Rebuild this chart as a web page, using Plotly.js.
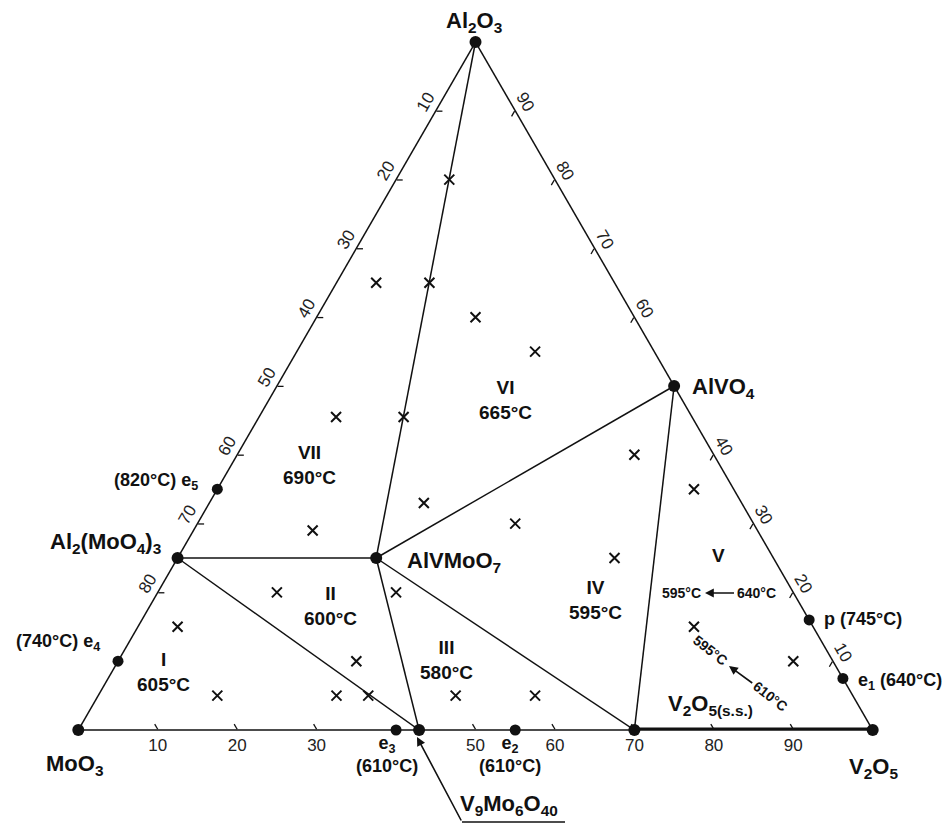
<!DOCTYPE html>
<html><head><meta charset="utf-8">
<script src="https://cdn.plot.ly/plotly-3.0.1.min.js"></script>
<style>html,body{margin:0;padding:0;background:#fff}</style>
</head><body><div id="chart" style="width:944px;height:823px"></div>
<script>
// Compositions in mol %: Al2O3 (top vertex), MoO3 (bottom-left), V2O5 (bottom-right)
const compoundNames = ['Al2O3', 'MoO3', 'V2O5', 'Al2(MoO4)3', 'AlVMoO7', 'AlVO4', 'V9Mo6O40', 'V2O5 s.s. limit'];
const compoundAl2O3 = [100, 0, 0, 25, 25, 50, 0, 0];
const compoundMoO3  = [0, 100, 0, 75, 50, 0, 57.1, 30];
const compoundV2O5  = [0, 0, 100, 0, 25, 50, 42.9, 70];

const invariantNames = ['e1', 'p', 'e2', 'e3', 'e4', 'e5'];
const invariantAl2O3 = [7.5, 16, 0, 0, 10, 35];
const invariantMoO3  = [0, 0, 45, 60, 90, 65];
const invariantV2O5  = [92.5, 84, 55, 40, 0, 0];

const tieLines = [
  ['Al2O3', 'AlVMoO7'], ['Al2(MoO4)3', 'AlVMoO7'], ['Al2(MoO4)3', 'V9Mo6O40'],
  ['AlVMoO7', 'V9Mo6O40'], ['AlVMoO7', 'V2O5 s.s. limit'], ['AlVMoO7', 'AlVO4'],
  ['AlVO4', 'V2O5 s.s. limit']
];
const solidSolution = ['V2O5 s.s. limit', 'V2O5'];

// experimental compositions (x marks)
const sampleAl2O3 = [80, 65, 65, 60, 55, 45.5, 45.5, 40, 35, 33, 30, 29, 25, 20, 20, 15, 15, 10, 10, 5, 5, 5, 5, 5];
const sampleMoO3  = [13.3, 30, 23.3, 20, 15, 44.8, 36.3, 10, 5, 40, 30, 56, 20, 65, 50, 80, 15, 60, 5, 80, 65, 61, 50, 40];
const sampleV2O5  = [6.7, 5, 11.7, 20, 30, 9.7, 18.2, 50, 60, 27, 40, 15, 55, 15, 30, 5, 70, 30, 85, 15, 30, 34, 45, 55];

// edge scales (labels read along each edge; ticks hidden under points are left out)
const moo3Ticks  = [10, 20, 30, 40, 50, 60, 70, 80];       // left edge
const v2o5Ticks  = [10, 20, 30, 50, 60, 70, 80, 90];       // bottom edge
const al2o3Ticks = [90, 80, 70, 60, 40, 30, 20, 10];       // right edge

const FONT = 'Liberation Sans, Arial, Helvetica, sans-serif';
const idx = n => compoundNames.indexOf(n);

// tie-line trace
const tA = [], tB = [], tC = [];
tieLines.forEach(([p, q]) => {
  [p, q].forEach(n => { const i = idx(n); tA.push(compoundAl2O3[i]); tB.push(compoundMoO3[i]); tC.push(compoundV2O5[i]); });
  tA.push(null); tB.push(null); tC.push(null);
});

const traces = [
  {type: 'scatterternary', mode: 'lines', a: tA, b: tB, c: tC, connectgaps: false,
   line: {color: '#111', width: 1.5}, hoverinfo: 'skip', showlegend: false},
  {type: 'scatterternary', mode: 'lines',
   a: solidSolution.map(n => compoundAl2O3[idx(n)]), b: solidSolution.map(n => compoundMoO3[idx(n)]), c: solidSolution.map(n => compoundV2O5[idx(n)]),
   line: {color: '#111', width: 5}, hoverinfo: 'skip', showlegend: false, cliponaxis: false},
  {type: 'scatterternary', mode: 'markers', a: sampleAl2O3, b: sampleMoO3, c: sampleV2O5,
   marker: {symbol: 'x-thin-open', size: 10, color: '#111', line: {width: 2, color: '#111'}},
   hoverinfo: 'skip', showlegend: false},
  {type: 'scatterternary', mode: 'markers', a: compoundAl2O3, b: compoundMoO3, c: compoundV2O5,
   marker: {size: 12, color: '#111'}, cliponaxis: false, hoverinfo: 'skip', showlegend: false},
  {type: 'scatterternary', mode: 'markers', a: invariantAl2O3, b: invariantMoO3, c: invariantV2O5,
   marker: {size: 11, color: '#111'}, cliponaxis: false, hoverinfo: 'skip', showlegend: false}
];

const ML = 77, MR = 70, MT = 42, MB = 93, W = 944, H = 823;
const PW = W - ML - MR, PH = H - MT - MB;
const px = x => (x - ML) / PW;
const py = y => (H - MB - y) / PH;

function lab(text, x, y, size, opts) {
  return Object.assign({text: text, x: px(x), y: py(y), xref: 'paper', yref: 'paper',
    showarrow: false, xanchor: 'center', yanchor: 'middle',
    font: {family: FONT, size: size, color: '#111', weight: 'bold'}}, opts || {});
}
// label whose arrow points from the text to a head point
function labArrow(text, x, y, size, hx, hy, opts) {
  return Object.assign({text: text, x: px(hx), y: py(hy), xref: 'paper', yref: 'paper',
    showarrow: true, ax: x - hx, ay: y - hy, arrowhead: 2, arrowsize: 1.1, arrowwidth: 1.6,
    arrowcolor: '#111', standoff: 0, startstandoff: 1,
    font: {family: FONT, size: size, color: '#111', weight: 'bold'}}, opts || {});
}

const annotations = [
  lab('Al<sub>2</sub>O<sub>3</sub>', 474, 22, 22),
  lab('MoO<sub>3</sub>', 74, 765, 22),
  lab('V<sub>2</sub>O<sub>5</sub>', 873, 768, 22),
  lab('AlVO<sub>4</sub>', 690, 388, 22, {xanchor: 'left'}),
  lab('Al<sub>2</sub>(MoO<sub>4</sub>)<sub>3</sub>', 163, 543, 22, {xanchor: 'right'}),
  lab('AlVMoO<sub>7</sub>', 405, 562, 22, {xanchor: 'left'}),
  lab('V<sub>9</sub>Mo<sub>6</sub>O<sub>40</sub>', 509, 805, 22),
  lab('V<sub>2</sub>O<sub>5(s.s.)</sub>', 710, 705, 22),
  lab('(820°C) e<sub>5</sub>', 200, 481, 18, {xanchor: 'right'}),
  lab('(740°C) e<sub>4</sub>', 102, 642, 18, {xanchor: 'right'}),
  lab('p (745°C)', 822, 619, 18, {xanchor: 'left'}),
  lab('e<sub>1</sub> (640°C)', 856, 681, 18, {xanchor: 'left'}),
  lab('e<sub>3</sub><br>(610°C)', 387, 754, 18),
  lab('e<sub>2</sub><br>(610°C)', 510, 754, 18),
  lab('I<br>605°C', 163, 672, 19),
  lab('II<br>600°C', 330, 606, 19),
  lab('III<br>580°C', 446, 660, 19),
  lab('IV<br>595°C', 595, 600, 19),
  lab('V', 718, 555, 19),
  lab('VI<br>665°C', 505, 400, 19),
  lab('VII<br>690°C', 309, 465, 19),
  lab('595°C', 681, 593, 14),
  labArrow('640°C', 756, 593, 14, 705, 593),
  lab('595°C', 710, 650, 14, {textangle: 38}),
  labArrow('610°C', 770, 696, 14, 729, 666, {textangle: 38}),
  {text: '', x: px(417), y: py(737), xref: 'paper', yref: 'paper', showarrow: true,
   ax: 462 - 417, ay: 822 - 737, arrowhead: 2, arrowsize: 1.1, arrowwidth: 1.6, arrowcolor: '#111', standoff: 0}
];

const axisCommon = {
  min: 0, showline: true, linecolor: '#111', linewidth: 1.5, showgrid: false,
  ticks: 'inside', ticklen: 6, tickwidth: 1.3, tickcolor: '#111', layer: 'below traces',
  tickmode: 'array', tickfont: {family: FONT, size: 17, color: '#222'}, title: {text: ''}
};

const layout = {
  width: W, height: H, paper_bgcolor: '#fff', showlegend: false,
  margin: {l: ML, r: MR, t: MT, b: MB, pad: 0},
  ternary: {
    sum: 100, bgcolor: 'rgba(0,0,0,0)', domain: {x: [0, 1], y: [0, 1]},
    aaxis: Object.assign({}, axisCommon, {tickvals: moo3Ticks.map(v => 100 - v), ticktext: moo3Ticks.map(String), tickangle: -60}),
    baxis: Object.assign({}, axisCommon, {tickvals: v2o5Ticks.map(v => 100 - v), ticktext: v2o5Ticks.map(String), tickangle: 0}),
    caxis: Object.assign({}, axisCommon, {tickvals: al2o3Ticks.map(v => 100 - v), ticktext: al2o3Ticks.map(String), tickangle: 60})
  },
  shapes: [{type: 'line', xref: 'paper', yref: 'paper', x0: px(462), y0: py(822), x1: px(565), y1: py(822),
            line: {color: '#111', width: 1.6}}],
  annotations: annotations
};

Plotly.newPlot('chart', traces, layout, {displayModeBar: false, staticPlot: true});
</script></body></html>
